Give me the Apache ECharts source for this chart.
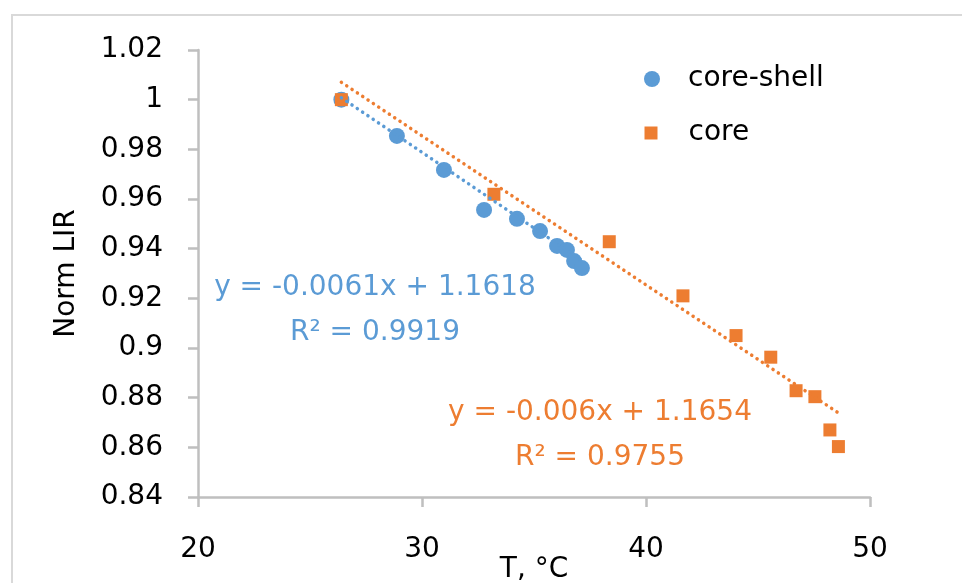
<!DOCTYPE html>
<html>
<head>
<meta charset="utf-8">
<script src="https://cdn.jsdelivr.net/npm/echarts@6/dist/echarts.min.js"></script>
<style>html,body{margin:0;padding:0;background:#fff;}#c{width:962px;height:583px;}</style>
</head>
<body>
<div id="c"></div>
<script>
// ---- data ----
var coreShellT   = [26.4, 28.88, 30.98, 32.77, 34.24, 35.27, 36.03, 36.47, 36.79, 37.14];
var coreShellLIR = [1.000, 0.9854, 0.9717, 0.9556, 0.9520, 0.9471, 0.9411, 0.9395, 0.9350, 0.9322];
var coreT        = [26.4, 33.21, 38.36, 41.65, 44.02, 45.57, 46.70, 47.54, 48.21, 48.59];
var coreLIR      = [1.000, 0.9619, 0.9428, 0.9210, 0.9050, 0.8963, 0.8828, 0.8804, 0.8670, 0.8603];
var seriesNames  = ['core-shell', 'core'];
var trendSlopes     = [-0.0061, -0.006];
var trendIntercepts = [1.1618, 1.1654];
var trendR2         = [0.9919, 0.9755];
var xTicks = [20, 30, 40, 50];
var yTicks = [0.84, 0.86, 0.88, 0.90, 0.92, 0.94, 0.96, 0.98, 1.00, 1.02];

var BLUE = '#5B9BD5', ORANGE = '#ED7D31';
var FONT = 'DejaVu Sans';

function pairs(xs, ys) { return xs.map(function (x, i) { return [x, ys[i]]; }); }
function trend(xs, k) {
  var lo = Math.min.apply(null, xs), hi = Math.max.apply(null, xs);
  return [[lo, trendSlopes[k] * lo + trendIntercepts[k]], [hi, trendSlopes[k] * hi + trendIntercepts[k]]];
}
function eqText(k) {
  return 'y = ' + trendSlopes[k] + 'x + ' + trendIntercepts[k] + '\nR\u00B2 = ' + trendR2[k];
}

var chart = echarts.init(document.getElementById('c'), null, {renderer: 'canvas'});
var axisLine = {lineStyle: {color: '#BFBFBF', width: 2.5}};
var option = {
  animation: false,
  backgroundColor: '#fff',
  grid: {left: 198, right: 92, top: 50, bottom: 86, containLabel: false, outerBoundsMode: 'none'},
  xAxis: {
    type: 'value', min: xTicks[0], max: xTicks[xTicks.length - 1], interval: 10,
    name: 'T, \u00B0C', nameLocation: 'middle', nameGap: 59, nameMoveOverlap: false,
    nameTextStyle: {fontFamily: FONT, fontSize: 28, color: '#000', verticalAlign: 'top'},
    axisLine: axisLine,
    axisTick: {show: true, length: 10, lineStyle: {color: '#BFBFBF', width: 2.5}},
    axisLabel: {fontFamily: FONT, fontSize: 28, color: '#000', margin: 39},
    splitLine: {show: false}
  },
  yAxis: {
    type: 'value', min: yTicks[0], max: yTicks[yTicks.length - 1], interval: 0.02,
    name: 'Norm LIR', nameLocation: 'middle', nameGap: 117, nameRotate: 90, nameMoveOverlap: false,
    nameTextStyle: {fontFamily: FONT, fontSize: 28, color: '#000'},
    axisLine: axisLine,
    axisTick: {show: true, length: 10, lineStyle: {color: '#BFBFBF', width: 2.5}},
    axisLabel: {fontFamily: FONT, fontSize: 28, color: '#000', margin: 35,
      formatter: function (v) { return String(+v.toFixed(2)); }},
    splitLine: {show: false}
  },
  legend: [
    {data: [seriesNames[0]], orient: 'vertical', left: 639, top: 60,
     itemWidth: 16, itemHeight: 16, icon: 'circle',
     textStyle: {fontFamily: FONT, fontSize: 28, color: '#000', padding: [0, 0, 0, 23]}},
    {data: [seriesNames[1]], orient: 'vertical', left: 639.5, top: 114,
     itemWidth: 13, itemHeight: 13, icon: 'rect',
     textStyle: {fontFamily: FONT, fontSize: 28, color: '#000', padding: [0, 0, 0, 26]}}
  ],
  series: [
    {name: seriesNames[0], type: 'scatter', symbol: 'circle', symbolSize: 16,
     itemStyle: {color: BLUE, opacity: 1}, data: pairs(coreShellT, coreShellLIR), z: 2},
    {name: seriesNames[1], type: 'scatter', symbol: 'rect', symbolSize: 13,
     itemStyle: {color: ORANGE, opacity: 1}, data: pairs(coreT, coreLIR), z: 3},
    {name: 'trend-cs', type: 'line', showSymbol: false, symbol: 'none', silent: true,
     lineStyle: {color: BLUE, width: 3.5, type: [0.1, 6.3], cap: 'round'},
     data: trend(coreShellT, 0), z: 4},
    {name: 'trend-c', type: 'line', showSymbol: false, symbol: 'none', silent: true,
     lineStyle: {color: ORANGE, width: 3.5, type: [0.1, 6.3], cap: 'round'},
     data: trend(coreT, 1), z: 4}
  ],
  graphic: [
    {type: 'rect', z: -10, silent: true, shape: {x: 12, y: 15, width: 1000, height: 1000},
     style: {fill: 'none', stroke: '#D9D9D9', lineWidth: 2}},
    {type: 'text', x: 375, y: 310, z: 10,
     style: {text: eqText(0), font: '28px "' + FONT + '"', fill: BLUE, align: 'center', verticalAlign: 'middle', lineHeight: 45}},
    {type: 'text', x: 600, y: 435, z: 10,
     style: {text: eqText(1), font: '28px "' + FONT + '"', fill: ORANGE, align: 'center', verticalAlign: 'middle', lineHeight: 45}}
  ]
};
chart.setOption(option);
</script>
</body>
</html>
